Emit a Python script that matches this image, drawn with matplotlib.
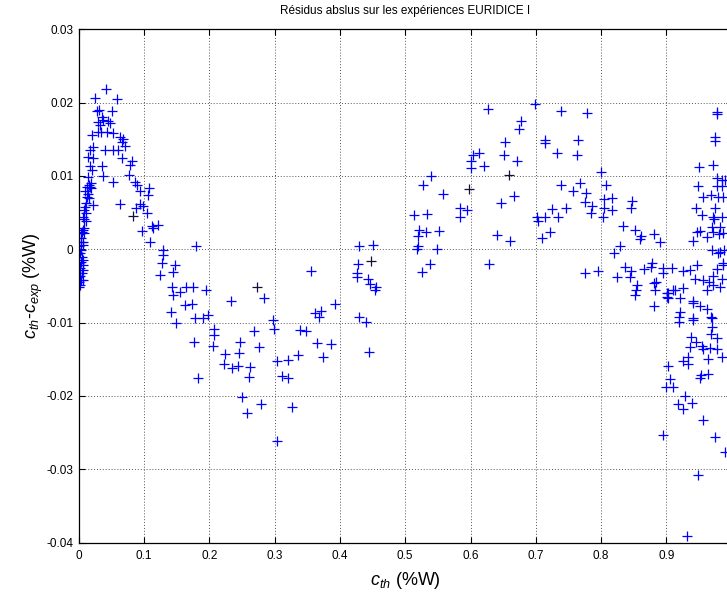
import matplotlib
matplotlib.use("Agg")
import matplotlib.pyplot as plt

plt.rcParams['font.family'] = ['Liberation Sans', 'DejaVu Sans']
plt.rcParams['mathtext.fontset'] = 'custom'
plt.rcParams['mathtext.rm'] = 'Liberation Sans'
plt.rcParams['mathtext.it'] = 'Liberation Sans:italic'
plt.rcParams['axes.unicode_minus'] = False

title = "Résidus abslus sur les expériences EURIDICE I"
xlabel = r"$c_{th}$ (%W)"
ylabel = r"$c_{th}$-$c_{exp}$ (%W)"

xticks = [0, 0.1, 0.2, 0.3, 0.4, 0.5, 0.6, 0.7, 0.8, 0.9, 1.0]
xtick_labels = ["0", "0.1", "0.2", "0.3", "0.4", "0.5", "0.6", "0.7", "0.8", "0.9", ""]
yticks = [-0.04, -0.03, -0.02, -0.01, 0, 0.01, 0.02, 0.03]
ytick_labels = ["-0.04", "-0.03", "-0.02", "-0.01", "0", "0.01", "0.02", "0.03"]

# blue series: c_th and residual
c_blue = [
    0.0418, 0.025, 0.0582, 0.0276, 0.0311, 0.0515, 0.0361, 0.0377, 0.0453, 0.0479,
    0.0291, 0.0326, 0.030, 0.0341, 0.0429, 0.0199, 0.053, 0.0632, 0.0683, 0.0658,
    0.0709, 0.0224, 0.0173, 0.0403, 0.053, 0.0606, 0.0147, 0.0224, 0.0658, 0.0812,
    0.0786, 0.0173, 0.0352, 0.0199, 0.0775, 0.0377, 0.053, 0.0147, 0.0862, 0.0888,
    0.0173, 0.0123, 0.0939, 0.1077, 0.0096, 0.1066, 0.0123, 0.0224, 0.0632, 0.0939,
    0.098, 0.0877, 0.0096, 0.1041, 0.007, 0.1118, 0.1219, 0.0965, 0.0046, 0.1092,
    0.1296, 0.1285, 0.1271, 0.1475, 0.1245, 0.1449, 0.1424, 0.1551, 0.1643,
    # left strip
    0.0163, 0.0189, 0.0138, 0.0153, 0.0112, 0.0086, 0.0112, 0.0086, 0.0112, 0.0061,
    0.0086, 0.0035, 0.0035, 0.0061, 0.0035, 0.002, 0.005, 0.0035, 0.0061, 0.002,
    0.005, 0.002, 0.0035, 0.002, 0.001, 0.0061, 0.007, 0.001, 0.0086, 0.0035,
    0.0061, 0.001, 0.007, 0.0005, 0.0189,
    # descending branch
    0.1796, 0.144, 0.1746, 0.1945, 0.2838, 0.2328, 0.1628, 0.173, 0.1409, 0.1781,
    0.1908, 0.1985, 0.1133,
    0.149, 0.1766, 0.2072, 0.2072, 0.2061, 0.1832, 0.224, 0.2225, 0.2343, 0.2444,
    0.247, 0.2459, 0.2623, 0.2613, 0.2684, 0.2766, 0.298, 0.2991, 0.3032, 0.3109,
    0.321, 0.2496, 0.2573, 0.2787, 0.3041, 0.321, 0.327,
    # middle
    0.5268, 0.5574, 0.5139, 0.5338, 0.5839, 0.5839, 0.5951, 0.5216, 0.5319, 0.52,
    0.5522, 0.52, 0.5185, 0.5482, 0.538, 0.5253, 0.4297, 0.4502, 0.4282, 0.4257,
    0.4257, 0.4435, 0.4461, 0.4553, 0.4538, 0.3557, 0.3925, 0.3619, 0.3706, 0.3685,
    0.4297, 0.44, 0.3389, 0.3481, 0.3654, 0.3859, 0.445, 0.3363, 0.3737,
    0.6273, 0.6769, 0.6747, 0.6528, 0.613, 0.6034, 0.6003, 0.6513, 0.6707, 0.6211,
    0.6008, 0.539, 0.6666, 0.6462, 0.641, 0.6605, 0.6279,
    # right part
    0.6988, 0.7386, 0.7779, 0.7141, 0.7141, 0.7641, 0.732, 0.7626, 0.7994, 0.8075,
    0.7386, 0.7677, 0.7565, 0.7769, 0.7753, 0.7856, 0.8044, 0.8162, 0.8044, 0.8469,
    0.8453, 0.7841, 0.8034, 0.8162, 0.7253, 0.7458, 0.7023, 0.7141, 0.7335, 0.7038,
    0.7217, 0.71, 0.8331, 0.8519, 0.8606, 0.8596, 0.881, 0.8902, 0.8289, 0.8197,
    0.7753, 0.7957, 0.8239, 0.8366, 0.8453, 0.8442, 0.8657, 0.8775, 0.8759, 0.8953,
    0.8943, 0.9081, 0.8545, 0.8534, 0.8519, 0.8841, 0.8826, 0.8815, 0.9004, 0.9029,
    0.9132, 0.9249, 0.9208, 0.9249, 0.9361, 0.9464, 0.9412, 0.9515, 0.9617, 0.9208,
    0.9198, 0.9403, 0.9678, 0.9473, 0.9515, 0.9403, 0.9617, 0.9719, 0.981, 0.9694,
    0.9821, 0.9847, 0.9729, 0.954, 0.9453, 0.9744, 0.9719, 0.9565, 0.9678, 0.9795,
    0.9862, 0.9479, 0.977, 0.9847, 0.977, 0.9847, 0.9504, 0.9709, 0.9744, 0.9744,
    0.977, 0.977, 0.9694, 0.9821, 0.9882, 0.9862, 0.977, 0.9719, 0.9847, 0.9556,
    0.9657, 0.9626, 0.9719, 0.9821, 0.9438, 0.9897, 0.9872, 0.9795, 0.9872,
    # lower right
    0.881, 0.9106, 0.903, 0.9004, 0.9186, 0.9412, 0.9403, 0.9694, 0.9694, 0.9678,
    0.978, 0.9372, 0.9453, 0.9361, 0.9541, 0.9565, 0.9668, 0.977, 0.9847, 0.9642,
    0.9335, 0.925, 0.9335, 0.903, 0.9525, 0.9515, 0.9642, 0.9051, 0.8994, 0.9106,
    0.9285, 0.9182, 0.9259, 0.9387, 0.9556, 0.8943, 0.9744, 0.9898, 0.9489, 0.9311,
]
res_blue = [
    0.0218, 0.0207, 0.0205, 0.0189, 0.0190, 0.0189, 0.0180, 0.0176, 0.0175, 0.0172,
    0.0174, 0.0170, 0.0160, 0.0160, 0.0160, 0.0156, 0.0159, 0.0153, 0.0151, 0.0147,
    0.0141, 0.0139, 0.0136, 0.0135, 0.0136, 0.0135, 0.0126, 0.0124, 0.0125, 0.0120,
    0.0115, 0.0114, 0.0113, 0.0108, 0.0101, 0.0100, 0.0092, 0.0098, 0.0092, 0.0088,
    0.0085, 0.0085, 0.0080, 0.0083, 0.0079, 0.0074, 0.0072, 0.0060, 0.0062, 0.0062,
    0.0059, 0.0056, 0.0058, 0.0049, 0.0044, 0.0032, 0.0033, 0.0025, 0.0024, 0.0010,
    -0.0001, -0.0008, -0.0019, -0.0021, -0.0035, -0.0031, -0.0051, -0.0058, -0.0051,
    # left strip
    0.0088, 0.0083, 0.0076, 0.0070, 0.0063, 0.0054, 0.0049, 0.0042, 0.0038, 0.0026,
    0.0022, 0.0015, 0.0010, 0.0006, -0.0001, -0.0005, -0.0010, -0.0017, -0.0021, -0.0026,
    -0.0033, -0.0037, -0.0042, -0.0049, -0.0052, -0.0015, 0.0010, 0.0004, 0.0029, 0.0022,
    -0.0028, -0.0019, -0.0042, -0.0044, 0.0091,
    # descending branch
    0.0004, -0.0062, -0.0051, -0.0056, -0.0066, -0.0070, -0.0076, -0.0074, -0.0086, -0.0094,
    -0.0094, -0.0090, 0.0029,
    -0.0100, -0.0127, -0.0109, -0.0117, -0.0132, -0.0175, -0.0143, -0.0156, -0.0162, -0.0159,
    -0.0127, -0.0141, -0.0161, -0.0174, -0.0112, -0.0133, -0.0097, -0.0109, -0.0153, -0.0173,
    -0.0176, -0.0201, -0.0223, -0.0211, -0.0262, -0.0151, -0.0215,
    # middle
    0.0088, 0.0075, 0.0047, 0.0048, 0.0056, 0.0044, 0.0054, 0.0026, 0.0023, 0.0018,
    0.0025, 0.0004, 0.0001, 0.0000, -0.0020, -0.0031, 0.0005, 0.0006, -0.0020, -0.0032,
    -0.0038, -0.0041, -0.0047, -0.0051, -0.0055, -0.0029, -0.0075, -0.0087, -0.0084, -0.0093,
    -0.0092, -0.0099, -0.0110, -0.0112, -0.0128, -0.0129, -0.0140, -0.0144, -0.0147,
    0.0191, 0.0175, 0.0164, 0.0147, 0.0132, 0.0129, 0.0121, 0.0129, 0.0120, 0.0114,
    0.0111, 0.0100, 0.0073, 0.0063, 0.0019, 0.0012, -0.0020,
    # right part
    0.0198, 0.0189, 0.0186, 0.0149, 0.0145, 0.0149, 0.0132, 0.0129, 0.0106, 0.0088,
    0.0088, 0.0090, 0.0080, 0.0077, 0.0064, 0.0059, 0.0068, 0.0070, 0.0056, 0.0066,
    0.0057, 0.0049, 0.0044, 0.0054, 0.0055, 0.0056, 0.0044, 0.0044, 0.0044, 0.0039,
    0.0023, 0.0015, 0.0032, 0.0027, 0.0018, 0.0014, 0.0021, 0.0010, 0.0005, -0.0005,
    -0.0032, -0.0030, -0.0038, -0.0024, -0.0029, -0.0038, -0.0027, -0.0018, -0.0024, -0.0026,
    -0.0033, -0.0025, -0.0049, -0.0055, -0.0062, -0.0044, -0.0056, -0.0078, -0.0060, -0.0067,
    -0.0056, -0.0053, -0.0067, -0.0029, -0.0028, -0.0021, -0.0073, -0.0077, -0.0082, -0.0085,
    -0.0092, -0.0094, -0.0093, 0.0024, 0.0025, 0.0012, 0.0017, 0.0024, 0.0021, 0.0031,
    0.0031, 0.0044, 0.0041, 0.0047, 0.0056, 0.0056, 0.0044, 0.0071, 0.0074, 0.0072,
    0.0071, 0.0086, 0.0086, 0.0086, 0.0097, 0.0095, 0.0112, 0.0115, 0.0153, 0.0148,
    0.0187, 0.0184, -0.0001, -0.0003, -0.0001, -0.0019, -0.0027, -0.0036, -0.0040, -0.0042,
    -0.0044, -0.0056, -0.0049, -0.0052, -0.0041, 0.0095, -0.0022, -0.0005, 0.0022,
    # lower right
    -0.0046, -0.0055, -0.0059, -0.0065, -0.0099, -0.0071, -0.0096, -0.0094, -0.0106, -0.0115,
    -0.0121, -0.0119, -0.0127, -0.0133, -0.0132, -0.0136, -0.0134, -0.0136, -0.0147, -0.0150,
    -0.0147, -0.0153, -0.0156, -0.0159, -0.0171, -0.0176, -0.0170, -0.0177, -0.0188, -0.0188,
    -0.0200, -0.0211, -0.0218, -0.0209, -0.0233, -0.0253, -0.0256, -0.0277, -0.0308, -0.0391,
]

# dark series
c_dark = [0.0836, 0.2726, 0.4476, 0.5977, 0.6594]
res_dark = [0.0046, -0.0052, -0.0016, 0.0082, 0.0101]

fig = plt.figure(figsize=(7.27, 5.99), dpi=100)
ax = fig.add_axes([0.1083, 0.0942, 0.8982, 0.8568])

ax.plot(c_blue, res_blue, linestyle='none', marker='+', color='#0000ff',
        markersize=7.5, markeredgewidth=0.9)
ax.plot(c_dark, res_dark, linestyle='none', marker='+', color='#10103a',
        markersize=7.5, markeredgewidth=0.9)

ax.set_xlim(0, 1)
ax.set_ylim(-0.04, 0.03)
ax.set_xticks(xticks)
ax.set_xticklabels(xtick_labels)
ax.set_yticks(yticks)
ax.set_yticklabels(ytick_labels)
ax.tick_params(direction='in', top=True, right=True, length=4, width=0.8,
               labelsize=8.5, pad=4)
ax.tick_params(axis='x', pad=5)
ax.grid(True, color='#555555', linestyle=(0, (1, 2)), linewidth=0.7)
for s in ax.spines.values():
    s.set_linewidth(0.9)
    s.set_color('black')

ax.set_title(title, fontsize=8.5, pad=11)
ax.set_xlabel(xlabel, fontsize=13, labelpad=6)
ax.set_ylabel(ylabel, fontsize=13, labelpad=1)

fig.savefig("out.png", dpi=100)
